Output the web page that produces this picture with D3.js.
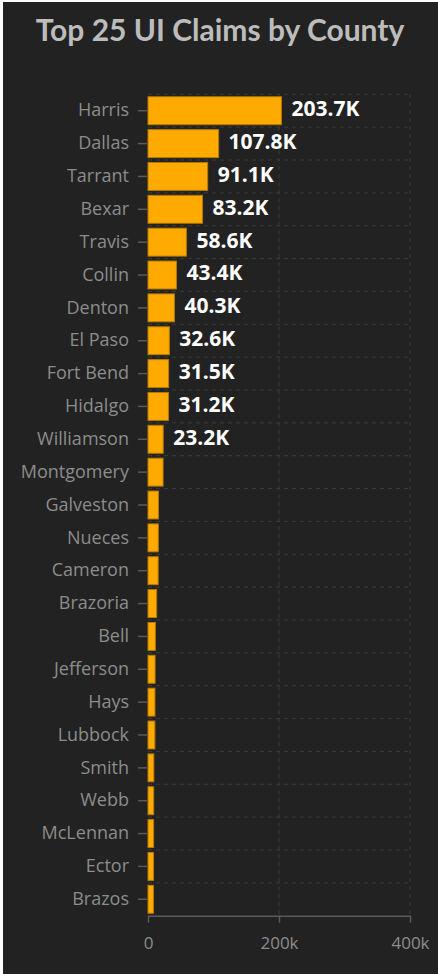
<!DOCTYPE html>
<html>
<head>
<meta charset="utf-8">
<script src="https://cdn.jsdelivr.net/npm/d3@7"></script>
<style>
  html, body { margin: 0; padding: 0; background: #ffffff; }
  svg { display: block; }
</style>
</head>
<body>
<div id="chart"></div>
<script>
//////////////////////////////////////////////////////////////
//////////////////////// Data ////////////////////////////////
//////////////////////////////////////////////////////////////

var counties = ["Harris", "Dallas", "Tarrant", "Bexar", "Travis", "Collin", "Denton", "El Paso",
	"Fort Bend", "Hidalgo", "Williamson", "Montgomery", "Galveston", "Nueces", "Cameron",
	"Brazoria", "Bell", "Jefferson", "Hays", "Lubbock", "Smith", "Webb", "McLennan", "Ector", "Brazos"];

//Claims per county (only the top 11 carry a label in the original)
var claims = [203700, 107800, 91100, 83200, 58600, 43400, 40300, 32600, 31500, 31200, 23200,
	23000, 15900, 15700, 15500, 13200, 11200, 10800, 10600, 10500, 8900, 8700, 8600, 8500, 8300];

var valueLabels = ["203.7K", "107.8K", "91.1K", "83.2K", "58.6K", "43.4K", "40.3K", "32.6K",
	"31.5K", "31.2K", "23.2K"];

var xTicks = [0, 200000, 400000];
var xTickLabels = ["0", "200k", "400k"];

//////////////////////////////////////////////////////////////
/////////////////////// Set up ///////////////////////////////
//////////////////////////////////////////////////////////////

var width = 438,
	height = 974,
	plot = {left: 148, right: 410, top: 94.3, bottom: 915.7};

var svg = d3.select("#chart").append("svg")
	.attr("width", width)
	.attr("height", height);

//Dark panel, the original screenshot has a thin light edge top/left
svg.append("rect")
	.attr("x", 3).attr("y", 2)
	.attr("width", width - 3).attr("height", height - 2)
	.style("fill", "#222222");

svg.append("text")
	.attr("x", 220)
	.attr("y", 41)
	.style("text-anchor", "middle")
	.style("font-family", "Lato, 'Open Sans', sans-serif")
	.style("font-weight", 700)
	.style("font-size", "30px")
	.style("fill", "#bcbcbc")
	.text("Top 25 UI Claims by County");

var x = d3.scaleLinear()
	.domain([0, 400000])
	.range([plot.left, plot.right]);

//one row per county, bars sit inside the row
var y = d3.scaleBand()
	.domain(counties)
	.range([plot.top, plot.bottom])
	.padding(0);

var barInset = 0.075;

//////////////////////////////////////////////////////////////
////////////////////// Grid lines ////////////////////////////
//////////////////////////////////////////////////////////////

var grid = svg.append("g").attr("class", "grid");

//horizontal dashes at the row boundaries
grid.selectAll(".hgrid")
	.data(counties)
	.enter().append("line")
	.attr("class", "hgrid")
	.attr("x1", x(0))
	.attr("x2", x(400000))
	.attr("y1", function(d) { return y(d); })
	.attr("y2", function(d) { return y(d); })
	.style("stroke", "#3b3b3b")
	.style("stroke-width", 1)
	.style("stroke-dasharray", "4,4");

grid.selectAll(".vgrid")
	.data(xTicks.slice(1))
	.enter().append("line")
	.attr("class", "vgrid")
	.attr("x1", function(d) { return x(d); })
	.attr("x2", function(d) { return x(d); })
	.attr("y1", plot.top)
	.attr("y2", plot.bottom)
	.style("stroke", "#3b3b3b")
	.style("stroke-width", 1)
	.style("stroke-dasharray", "4,4");

//////////////////////////////////////////////////////////////
//////////////////////// Axes ////////////////////////////////
//////////////////////////////////////////////////////////////

var yAxis = svg.append("g")
	.attr("transform", "translate(" + (plot.left - 1) + ",0)")
	.call(d3.axisLeft(y).tickSize(9).tickPadding(9));

yAxis.select(".domain").remove();
yAxis.selectAll(".tick line").style("stroke", "#5a5a5a").style("stroke-width", 1.5);
yAxis.selectAll(".tick text")
	.style("font-family", "'Open Sans', sans-serif")
	.style("font-size", "18px")
	.style("fill", "#8c8c8c");

var xAxis = svg.append("g")
	.attr("transform", "translate(0," + plot.bottom + ")")
	.call(d3.axisBottom(x)
		.tickValues(xTicks)
		.tickSize(7)
		.tickPadding(14)
		.tickSizeOuter(0)
		.tickFormat(function(d, i) { return xTickLabels[i]; }));

xAxis.select(".domain").style("stroke", "#5a5a5a").style("stroke-width", 1.5);
xAxis.selectAll(".tick line").style("stroke", "#5a5a5a").style("stroke-width", 1.5);
xAxis.selectAll(".tick text")
	.style("font-family", "'Open Sans', sans-serif")
	.style("font-size", "17px")
	.style("fill", "#8c8c8c");

//////////////////////////////////////////////////////////////
//////////////////////// Bars ////////////////////////////////
//////////////////////////////////////////////////////////////

svg.selectAll(".bar")
	.data(counties)
	.enter().append("rect")
	.attr("class", "bar")
	.attr("x", x(0))
	.attr("y", function(d) { return y(d) + y.bandwidth() * barInset; })
	.attr("width", function(d, i) { return x(claims[i]) - x(0); })
	.attr("height", y.bandwidth() * (1 - 2 * barInset))
	.style("fill", "#ffaa00")
	.style("stroke", "#b57a00")
	.style("stroke-width", 1);

svg.selectAll(".value")
	.data(valueLabels)
	.enter().append("text")
	.attr("class", "value")
	.attr("x", function(d, i) { return x(claims[i]) + 10; })
	.attr("y", function(d, i) { return y(counties[i]) + y.bandwidth() / 2 - 2; })
	.attr("dy", ".35em")
	.style("font-family", "'Open Sans', sans-serif")
	.style("font-weight", 700)
	.style("font-size", "21px")
	.style("fill", "#ffffff")
	.text(function(d) { return d; });
</script>
</body>
</html>
